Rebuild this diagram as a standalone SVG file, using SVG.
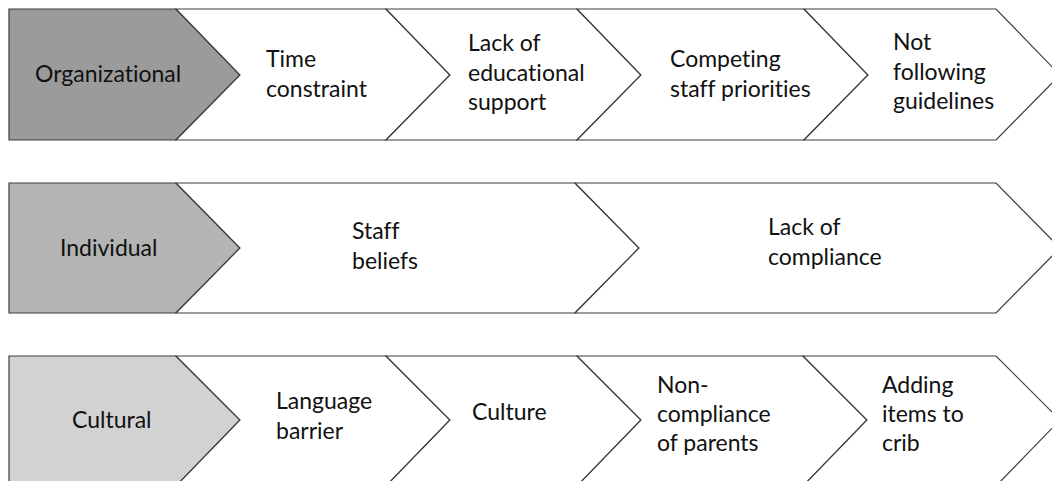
<svg xmlns="http://www.w3.org/2000/svg" width="1052" height="481" viewBox="0 0 1052 481">
  <style>
    .shape { stroke: #3c3c3c; stroke-width: 1.2; stroke-linejoin: miter; }
    .head { fill: #ffffff; }
    .org { fill: #9b9b9b; }
    .ind { fill: #b4b4b4; }
    .cul { fill: #d2d2d2; }
    text { font-family: Lato, "Open Sans", "Liberation Sans", sans-serif; font-size: 23px; fill: #111111; font-variant-ligatures: none; }
  </style>
  <rect width="1052" height="481" fill="#ffffff"/>

  <!-- Row 1: Organizational (top 9, bottom 140, tip 75) -->
  <g id="organizational">
    <polygon class="shape org" points="9,9 176,9 240,75 176,140 9,140"/>
    <text x="35" y="82">Organizational</text>
  </g>
  <g id="time-constraint">
    <polygon class="shape head" points="176,9 386,9 450,75 386,140 176,140 240,75"/>
    <text x="266" y="67">Time</text>
    <text x="266" y="97">constraint</text>
  </g>
  <g id="lack-educational-support">
    <polygon class="shape head" points="386,9 577,9 641,75 577,140 386,140 450,75"/>
    <text x="468" y="51">Lack of</text>
    <text x="468" y="81">educational</text>
    <text x="468" y="110">support</text>
  </g>
  <g id="competing-priorities">
    <polygon class="shape head" points="577,9 804,9 868,75 804,140 577,140 641,75"/>
    <text x="670" y="67">Competing</text>
    <text x="670" y="97">staff priorities</text>
  </g>
  <g id="not-following-guidelines">
    <polygon class="shape head" points="804,9 996,9 1060,75 996,140 804,140 868,75"/>
    <text x="893" y="50">Not</text>
    <text x="893" y="80">following</text>
    <text x="893" y="109">guidelines</text>
  </g>

  <!-- Row 2: Individual (top 183, bottom 313, tip 248) -->
  <g id="individual">
    <polygon class="shape ind" points="9,183 176,183 240,248 176,313 9,313"/>
    <text x="60" y="256">Individual</text>
  </g>
  <g id="staff-beliefs">
    <polygon class="shape head" points="176,183 575,183 639,248 575,313 176,313 240,248"/>
    <text x="352" y="239">Staff</text>
    <text x="352" y="269">beliefs</text>
  </g>
  <g id="lack-compliance">
    <polygon class="shape head" points="575,183 996,183 1060,248 996,313 575,313 639,248"/>
    <text x="768" y="235">Lack of</text>
    <text x="768" y="265">compliance</text>
  </g>

  <!-- Row 3: Cultural (top 356, runs past the lower edge, tip 420) -->
  <g id="cultural">
    <polygon class="shape cul" points="9,356 176,356 240,420 176,486 9,486"/>
    <text x="72" y="428">Cultural</text>
  </g>
  <g id="language-barrier">
    <polygon class="shape head" points="176,356 386,356 450,420 386,486 176,486 240,420"/>
    <text x="276" y="409">Language</text>
    <text x="276" y="439">barrier</text>
  </g>
  <g id="culture">
    <polygon class="shape head" points="386,356 577,356 641,420 577,486 386,486 450,420"/>
    <text x="472" y="420">Culture</text>
  </g>
  <g id="non-compliance-parents">
    <polygon class="shape head" points="577,356 803,356 867,420 803,486 577,486 641,420"/>
    <text x="657" y="393">Non-</text>
    <text x="657" y="422">compliance</text>
    <text x="657" y="451">of parents</text>
  </g>
  <g id="adding-items-crib">
    <polygon class="shape head" points="803,356 996,356 1060,420 996,486 803,486 867,420"/>
    <text x="882" y="393">Adding</text>
    <text x="882" y="422">items to</text>
    <text x="882" y="451">crib</text>
  </g>

  <!-- no connectors: the chevrons abut one another -->
  <g id="connectors"/>
</svg>
